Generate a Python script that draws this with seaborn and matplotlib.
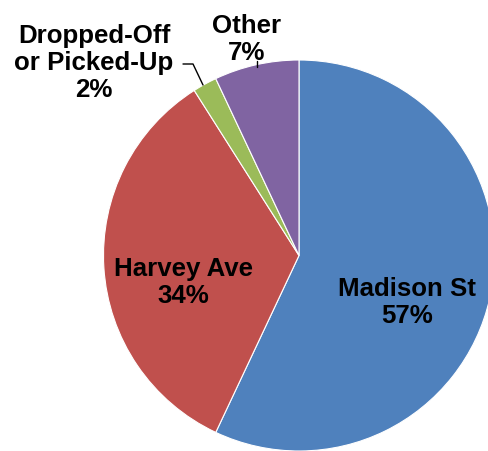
import matplotlib
matplotlib.use("Agg")
import matplotlib.pyplot as plt
import seaborn as sns

sns.set_theme(style="white")
plt.rcParams['font.family'] = ['Liberation Sans', 'DejaVu Sans']

categories = ["Madison St", "Harvey Ave", "Dropped-Off\nor Picked-Up", "Other"]
values = [57, 34, 2, 7]
colors = ["#4F81BD", "#C0504D", "#9BBB59", "#8064A2"]

W, H = 488, 452
fig = plt.figure(figsize=(W / 100, H / 100), dpi=100)
ax = fig.add_axes([0, 0, 1, 1])

cx, cy, r = 299, H - 256.5, 195.5
wedges, _ = ax.pie(values, colors=colors, startangle=90, counterclock=False,
                   center=(cx, cy), radius=r, frame=True,
                   wedgeprops=dict(linewidth=0.8, edgecolor="white"))
ax.set_xlim(0, W)
ax.set_ylim(0, H)
ax.set_aspect("equal")
ax.axis("off")

fs = 18.6
lbl = [f"{c}\n{v}%" for c, v in zip(categories, values)]
# baseline of last line (image px from top), x center
pos = [(407.5, 323), (183, 303), (94, 97), (247, 60)]
for t, (x, yb) in zip(lbl, pos):
    ax.text(x, H - yb, t, ha="center", va="baseline", fontsize=fs,
            fontweight="bold", color="black", linespacing=1.17,
            multialignment="center")

# leader lines
ax.plot([183, 193, 203], [H - 65, H - 65, H - 86], color="black", lw=1)
ax.plot([257, 257], [H - 62, H - 68], color="black", lw=1)

fig.savefig("out.png", dpi=100)
